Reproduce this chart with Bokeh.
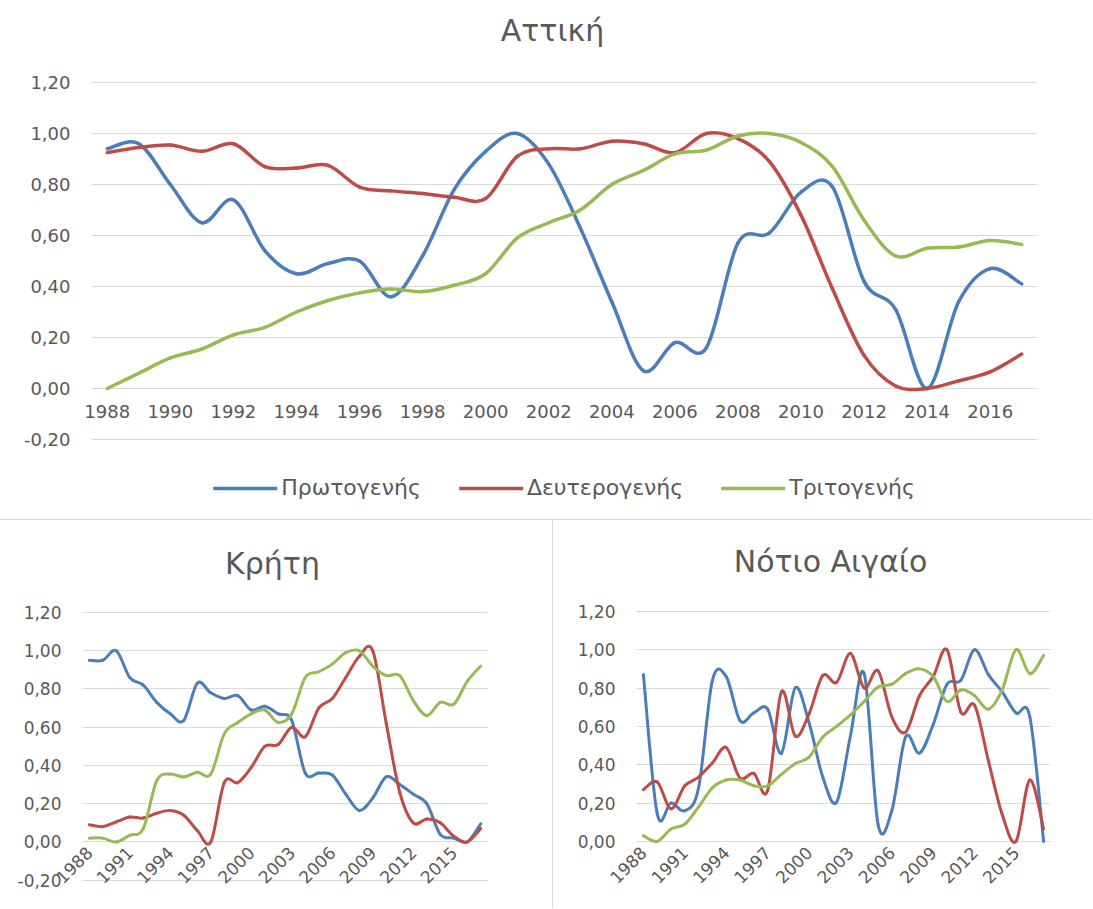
import numpy as np
from bokeh.plotting import figure
from bokeh.models import (FixedTicker, Range1d, Legend, LegendItem, Div, ColumnDataSource, Label)
from bokeh.layouts import column, row
from bokeh.embed import file_html
from bokeh.resources import INLINE

# ---------------- data ----------------
years = list(range(1988, 2018))
series_names = ["Πρωτογενής", "Δευτερογενής", "Τριτογενής"]
series_colors = ["#4a7ebb", "#be4b48", "#98b954"]

# Αττική
att_prim = [0.94, 0.96, 0.80, 0.65, 0.74, 0.54, 0.45, 0.49, 0.50, 0.36, 0.52, 0.78, 0.93, 1.00, 0.88,
            0.63, 0.34, 0.07, 0.18, 0.16, 0.57, 0.61, 0.77, 0.79, 0.42, 0.31, 0.00, 0.34, 0.47, 0.41]
att_sec = [0.925, 0.945, 0.955, 0.93, 0.96, 0.87, 0.865, 0.875, 0.79, 0.775, 0.765, 0.75, 0.745, 0.91, 0.94,
           0.94, 0.97, 0.96, 0.925, 1.00, 0.98, 0.89, 0.68, 0.39, 0.13, 0.01, 0.00, 0.03, 0.065, 0.135]
att_ter = [0.00, 0.06, 0.12, 0.155, 0.21, 0.24, 0.30, 0.345, 0.375, 0.39, 0.38, 0.405, 0.45, 0.59, 0.65,
           0.70, 0.80, 0.855, 0.92, 0.935, 0.99, 1.00, 0.965, 0.87, 0.66, 0.52, 0.55, 0.555, 0.58, 0.565]

# Κρήτη
kri_prim = [0.95, 0.95, 1.00, 0.86, 0.82, 0.73, 0.67, 0.635, 0.83, 0.78, 0.75, 0.765, 0.69, 0.71, 0.67,
            0.635, 0.36, 0.36, 0.35, 0.25, 0.165, 0.23, 0.34, 0.30, 0.25, 0.20, 0.04, 0.02, 0.00, 0.095]
kri_sec = [0.09, 0.08, 0.105, 0.13, 0.125, 0.15, 0.165, 0.14, 0.06, 0.00, 0.31, 0.31, 0.39, 0.50, 0.51,
           0.60, 0.55, 0.70, 0.75, 0.86, 0.97, 1.00, 0.62, 0.26, 0.10, 0.12, 0.10, 0.03, 0.00, 0.07]
kri_ter = [0.02, 0.02, 0.00, 0.035, 0.07, 0.32, 0.355, 0.34, 0.365, 0.355, 0.565, 0.625, 0.67, 0.69, 0.625,
           0.67, 0.86, 0.89, 0.93, 0.99, 1.00, 0.92, 0.87, 0.87, 0.74, 0.66, 0.73, 0.72, 0.84, 0.92]

# Νότιο Αιγαίο
nai_prim = [0.87, 0.145, 0.20, 0.16, 0.28, 0.84, 0.86, 0.63, 0.67, 0.69, 0.46, 0.80, 0.62, 0.335, 0.205,
            0.55, 0.875, 0.09, 0.16, 0.545, 0.46, 0.61, 0.82, 0.84, 1.00, 0.87, 0.78, 0.67, 0.65, 0.00]
nai_sec = [0.27, 0.31, 0.17, 0.29, 0.335, 0.41, 0.49, 0.33, 0.355, 0.265, 0.78, 0.55, 0.665, 0.865, 0.83,
           0.98, 0.80, 0.89, 0.65, 0.57, 0.76, 0.86, 1.00, 0.675, 0.71, 0.42, 0.14, 0.00, 0.32, 0.065]
nai_ter = [0.03, 0.00, 0.065, 0.09, 0.18, 0.28, 0.32, 0.32, 0.29, 0.29, 0.35, 0.405, 0.44, 0.545, 0.60,
           0.66, 0.73, 0.805, 0.82, 0.875, 0.90, 0.86, 0.73, 0.79, 0.76, 0.69, 0.79, 1.00, 0.875, 0.97]

# tick labels
y_ticks_full = [-0.2, 0.0, 0.2, 0.4, 0.6, 0.8, 1.0, 1.2]
y_labels_full = ["-0,20", "0,00", "0,20", "0,40", "0,60", "0,80", "1,00", "1,20"]
y_ticks_pos = [0.0, 0.2, 0.4, 0.6, 0.8, 1.0, 1.2]
y_labels_pos = ["0,00", "0,20", "0,40", "0,60", "0,80", "1,00", "1,20"]
x_labels_top = ["1988", "1990", "1992", "1994", "1996", "1998", "2000", "2002", "2004",
                "2006", "2008", "2010", "2012", "2014", "2016"]
x_labels_bottom = ["1988", "1991", "1994", "1997", "2000", "2003", "2006", "2009", "2012", "2015"]

FONT = "DejaVu Sans"
TXT = "#595959"
GRID = "#d9d9d9"


def bezier_source(x, y):
    """Excel-like smoothed line: cubic Bezier segments through the data points."""
    x = np.asarray(x, float)
    y = np.asarray(y, float)
    n = len(x)
    xp = np.concatenate([[x[0]], x, [x[-1]]])
    yp = np.concatenate([[y[0]], y, [y[-1]]])
    return ColumnDataSource(dict(
        x0=x[:-1], y0=y[:-1], x1=x[1:], y1=y[1:],
        cx0=x[:-1] + (xp[2:n + 1] - xp[0:n - 1]) / 6.0,
        cy0=y[:-1] + (yp[2:n + 1] - yp[0:n - 1]) / 6.0,
        cx1=x[1:] - (xp[3:n + 2] - xp[1:n]) / 6.0,
        cy1=y[1:] - (yp[3:n + 2] - yp[1:n]) / 6.0,
    ))


def make_fig(title, width, height, bl, br, bb, y0, y1, yt, yl, tick_px, lw, series,
             xlabels, rotated, x_standoff, title_x, title_y):
    p = figure(width=width, height=height, output_backend="svg",
               toolbar_location=None, x_range=Range1d(1987.5, 2017.5),
               y_range=Range1d(y0, y1), min_border_left=bl, min_border_right=br,
               min_border_top=0, min_border_bottom=bb)
    p.outline_line_color = None
    p.background_fill_color = "white"
    p.border_fill_color = "white"
    p.xgrid.visible = False

    # y axis
    yticker = FixedTicker(ticks=yt)
    p.yaxis.ticker = yticker
    p.ygrid.ticker = yticker
    p.yaxis.major_label_overrides = dict(zip(yt, yl))
    p.yaxis.axis_line_color = None
    p.yaxis.major_tick_line_color = None
    p.yaxis.minor_tick_line_color = None
    p.yaxis.major_tick_out = 0
    p.yaxis.major_label_standoff = 21
    p.yaxis.major_label_text_font = FONT
    p.yaxis.major_label_text_font_size = f"{tick_px}px"
    p.yaxis.major_label_text_color = TXT
    p.ygrid.grid_line_color = GRID
    p.ygrid.grid_line_width = 1

    # x axis (category labels sit at the value 0, as in the original)
    lx = [int(s) for s in xlabels]
    p.xaxis.ticker = FixedTicker(ticks=lx)
    p.xaxis.major_label_overrides = dict(zip(lx, xlabels))
    p.xaxis.axis_line_color = None
    p.xaxis.major_tick_line_color = None
    p.xaxis.minor_tick_line_color = None
    p.xaxis.major_tick_out = 0
    p.xaxis.major_tick_in = 0
    p.xaxis.major_label_standoff = x_standoff
    p.xaxis.major_label_text_font = FONT
    p.xaxis.major_label_text_font_size = f"{tick_px}px"
    p.xaxis.major_label_text_color = TXT
    if rotated:
        p.xaxis.major_label_orientation = np.pi / 4

    # chart title (screen units, relative to the plot frame)
    p.add_layout(Label(x=title_x, y=title_y, x_units="screen", y_units="screen", text=title,
                       text_align="center", text_baseline="alphabetic", text_font=FONT,
                       text_font_size="30px", text_color=TXT))

    rends = []
    for vals, color in zip(series, series_colors):
        r = p.bezier(x0="x0", y0="y0", x1="x1", y1="y1", cx0="cx0", cy0="cy0",
                     cx1="cx1", cy1="cy1", source=bezier_source(years, vals),
                     line_color=color, line_width=lw, line_cap="round")
        rends.append(r)
    return p, rends


# top chart: frame x 91..1037, y 0..515 (zero at 388, 255 px per unit)
top, top_r = make_fig("Αττική", 1092, 519, 91, 55, 4, -0.498, 1.5216,
                      y_ticks_full, y_labels_full, 18, 3.5,
                      [att_prim, att_sec, att_ter], x_labels_top, False, -111, 461, 485)
legend = Legend(items=[LegendItem(label=n, renderers=[r]) for n, r in zip(series_names, top_r)],
                location="bottom_center", orientation="horizontal",
                border_line_color=None, background_fill_alpha=0,
                label_text_font=FONT, label_text_font_size="22px", label_text_color=TXT,
                glyph_width=64, glyph_height=20, label_standoff=4, spacing=38,
                padding=0, margin=15)
top.add_layout(legend)

# bottom charts: frame y 520..908 (zero at ~841, 191.5 px per unit)
kri, _ = make_fig("Κρήτη", 552, 388, 82, 65, 0, -0.348, 1.681,
                  y_ticks_full, y_labels_full, 17, 3,
                  [kri_prim, kri_sec, kri_ter], x_labels_bottom, True, -59, 190, 345)
nai, _ = make_fig("Νότιο Αιγαίο", 539, 388, 83, 42, 0, -0.35, 1.674,
                  y_ticks_pos, y_labels_pos, 17, 3,
                  [nai_prim, nai_sec, nai_ter], x_labels_bottom, True, -59, 194, 347)

hsep = Div(text="", width=1092, height=1, margin=0, styles={"background-color": GRID})
vsep = Div(text="", width=1, height=388, margin=0, styles={"background-color": GRID})

layout = column(top, hsep, row(kri, vsep, nai))

with open("out.html", "w") as f:
    f.write(file_html(layout, INLINE))
